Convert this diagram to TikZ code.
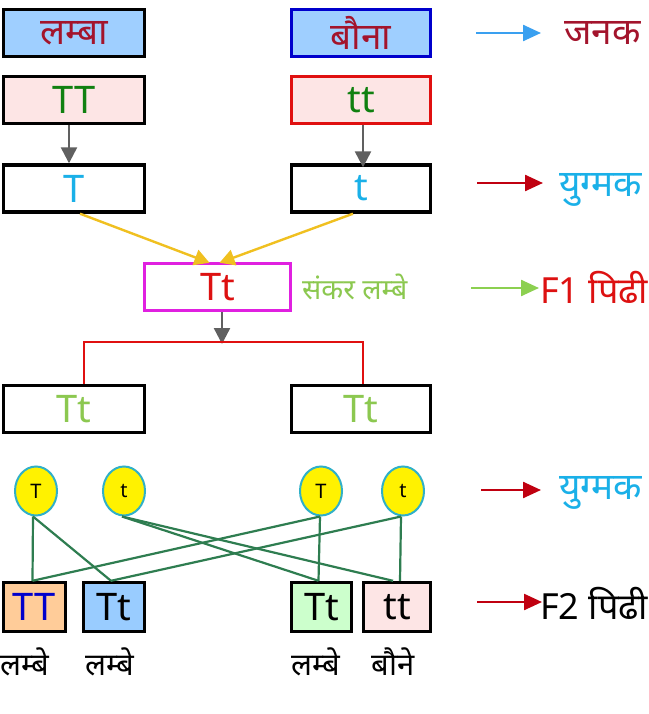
\documentclass[tikz,border=0pt]{standalone}
\usepackage{fontspec}
\setmainfont{Noto Sans}
\newfontfamily\dev[Script=Devanagari]{Noto Sans}
\usetikzlibrary{arrows.meta,shapes.geometric}
\definecolor{lblue}{HTML}{9FCFFF}
\definecolor{dred}{HTML}{A3142C}
\definecolor{bblue}{HTML}{0000CC}
\definecolor{lpink}{HTML}{FDE5E5}
\definecolor{ggreen}{HTML}{108010}
\definecolor{rborder}{HTML}{E01010}
\definecolor{cyantxt}{HTML}{1AB0E8}
\definecolor{ylw}{HTML}{F0C020}
\definecolor{magen}{HTML}{E020E0}
\definecolor{redtxt}{HTML}{DD1111}
\definecolor{lgreen}{HTML}{8CC850}
\definecolor{arrgreen}{HTML}{8CD050}
\definecolor{gamred}{HTML}{C00010}
\definecolor{arrblue}{HTML}{3AA0F0}
\definecolor{grayarr}{HTML}{606060}
\definecolor{linegreen}{HTML}{2E7D50}
\definecolor{gamborder}{HTML}{30B0C8}
\definecolor{orng}{HTML}{FFCC99}
\definecolor{fbl}{HTML}{99CCFF}
\definecolor{fgr}{HTML}{CCFFCC}
\begin{document}
\begin{tikzpicture}[x=1pt,y=-1pt,
  box/.style={draw=black, line width=3.4pt, minimum width=141pt, minimum height=47pt, inner sep=0pt},
  fbox/.style={draw=black, line width=3.4pt, minimum height=49pt, inner sep=0pt},
  gam/.style={ellipse, draw=gamborder, line width=2pt, fill=yellow, minimum width=42pt, minimum height=49pt, inner sep=0pt, font=\fontsize{20}{22}\selectfont},
  big/.style={font=\fontsize{38}{40}\selectfont},
  devbig/.style={font=\dev\fontsize{37}{40}\selectfont},
  side/.style={anchor=west, font=\dev\fontsize{37}{40}\selectfont, inner sep=0pt},
  garrow/.style={draw=grayarr, line width=2.4pt, -{Triangle[length=16pt,width=16pt]}},
  yarrow/.style={draw=ylw, line width=2.4pt, -{Triangle[length=15pt,width=16pt]}},
  rarrow/.style={line width=2.4pt, -{Triangle[length=18pt,width=16pt]}},
  gline/.style={draw=linegreen, line width=2.2pt},
]
\useasboundingbox[fill=white] (0,0) rectangle (648,714);

% parents
\node[box, fill=lblue, devbig, text=dred] (lamba) at (74,33) {लम्बा};
\node[box, draw=bblue, minimum width=139pt, fill=lblue, devbig, text=dred] (bauna) at (361,33) {बौना};
\node[box, fill=lpink, big, text=ggreen] (TT1) at (74,100) {TT};
\node[box, draw=rborder, minimum width=139pt, fill=lpink, big, text=ggreen] (tt1) at (361,100) {tt};
\node[box, fill=white, big, text=cyantxt] (Tg) at (74,188.5) {T};
\node[box, minimum width=139pt, fill=white, big, text=cyantxt] (tg) at (361,188.5) {t};

\draw[garrow] ([xshift=-5pt]TT1.south) -- ([xshift=-5pt]Tg.north);
\draw[garrow] ([xshift=2pt]tt1.south) -- ([xshift=2pt,yshift=-4pt]tg.north);

% F1
\node[box, draw=magen, minimum width=146pt, fill=white, big, text=redtxt] (F1) at (217.5,287) {Tt};
\node[anchor=west, inner sep=0pt, font=\dev\fontsize{28.5}{31}\selectfont, text=lgreen] (sankar) at (302,287) {संकर लम्बे};
\draw[yarrow] ([xshift=6pt]Tg.south) -- ([xshift=-8pt,yshift=-1pt]F1.north);
\draw[yarrow] ([xshift=-8pt]tg.south) -- ([xshift=2pt,yshift=-1pt]F1.north);

\coordinate (j) at (222,342);
\draw[garrow] ([xshift=4.5pt]F1.south) -- ([yshift=-2pt]j);

\node[box, fill=white, big, text=lgreen] (TtL) at (74,409) {Tt};
\node[box, minimum width=139pt, fill=white, big, text=lgreen] (TtR) at (361,409) {Tt};
\draw[draw=rborder, line width=2.8pt] ([xshift=10pt]TtL.north) |- (j) -| ([xshift=2pt]TtR.north);

% gametes
\node[gam] (g1) at (36,491) {T};
\node[gam] (g2) at (124,491) {t};
\node[gam] (g3) at (321,491) {T};
\node[gam] (g4) at (403,491) {t};

% F2
\node[fbox, minimum width=62pt, fill=orng, big, text=bblue] (f1) at (34.5,607) {TT};
\node[fbox, minimum width=61pt, fill=fbl, big] (f2) at (114,607) {Tt};
\node[fbox, minimum width=60pt, fill=fgr, big] (f3) at (321.5,607) {Tt};
\node[fbox, minimum width=67pt, fill=lpink, big] (f4) at (397,607) {tt};

\draw[gline] ([xshift=-3pt]g1.south) -- ([xshift=-2pt]f1.north);
\draw[gline] ([xshift=-3pt]g1.south) -- ([xshift=-3pt]f2.north);
\draw[gline] ([xshift=-2pt]g2.south) -- ([xshift=-3pt]f3.north);
\draw[gline] ([xshift=-2pt]g2.south) -- ([xshift=-4pt]f4.north);
\draw[gline] ([xshift=-1pt]g3.south) -- ([xshift=-3pt]f3.north);
\draw[gline] ([xshift=-1pt]g3.south) -- ([xshift=-2pt]f1.north);
\draw[gline] ([xshift=-2pt]g4.south) -- ([xshift=3pt]f4.north);
\draw[gline] ([xshift=-2pt]g4.south) -- ([xshift=-3pt]f2.north);

\foreach \n/\x/\t in {l1/25/लम्बे, l2/110/लम्बे, l3/316/लम्बे, l4/393/बौने}
  \node[inner sep=0pt, font=\dev\fontsize{31}{34}\selectfont] (\n) at (\x,662) {\t};

% right side labels
\node[side, text=dred] (janak) at (564,33) {जनक};
\node[side, text=cyantxt] (yug1) at (559,190) {युग्मक};
\node[side, text=redtxt, font=\fontsize{36}{38}\selectfont] (f1lab) at (540,287) {F1 {\dev पिढी}};
\node[side, text=cyantxt] (yug2) at (559,493) {युग्मक};
\node[side, text=black, font=\fontsize{36}{38}\selectfont] (f2lab) at (540,603) {F2 {\dev पिढी}};

\coordinate (a1s) at (476,33); \coordinate (a1e) at (541,33);
\coordinate (a2s) at (477,183); \coordinate (a2e) at (543,183);
\coordinate (a3s) at (471,288); \coordinate (a3e) at (539,288);
\coordinate (a4s) at (481,490); \coordinate (a4e) at (541,490);
\coordinate (a5s) at (477,602); \coordinate (a5e) at (542,602);
\draw[rarrow, draw=arrblue, -{Triangle[length=18pt,width=16pt,fill=arrblue]}] (a1s) -- (a1e);
\draw[rarrow, draw=gamred] (a2s) -- (a2e);
\draw[rarrow, draw=arrgreen] (a3s) -- (a3e);
\draw[rarrow, draw=gamred] (a4s) -- (a4e);
\draw[rarrow, draw=gamred] (a5s) -- (a5e);
\end{tikzpicture}
\end{document}
